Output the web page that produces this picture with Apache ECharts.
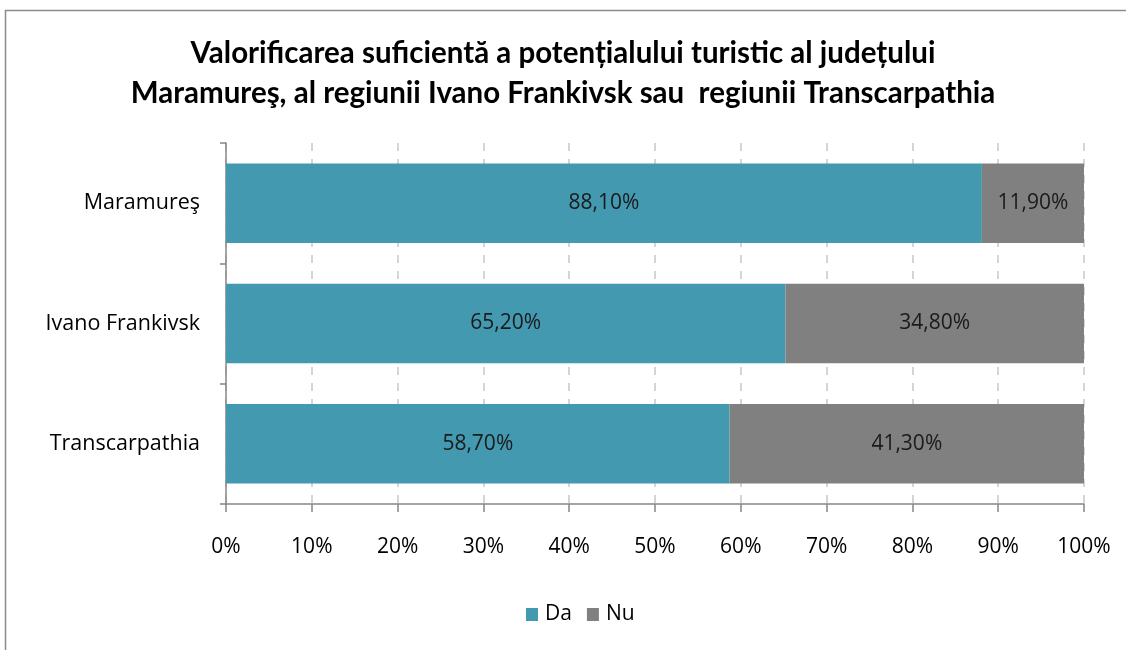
<!DOCTYPE html>
<html><head><meta charset="utf-8">
<script src="https://cdn.jsdelivr.net/npm/echarts@6/dist/echarts.min.js"></script>
<style>html,body{margin:0;padding:0;background:#fff}#c{width:1126px;height:650px}</style>
</head><body><div id="c"></div>
<script>
const categories = ['Maramureş', 'Ivano Frankivsk', 'Transcarpathia'];
const seriesNames = ['Da', 'Nu'];
const daValues = [88.1, 65.2, 58.7];
const nuValues = [11.9, 34.8, 41.3];
const xTicks = [0, 10, 20, 30, 40, 50, 60, 70, 80, 90, 100];
const titleLines = ['Valorificarea suficientă a potențialului turistic al județului', 'Maramureş, al regiunii Ivano Frankivsk sau  regiunii Transcarpathia'];

const font = "'Open Sans', 'Noto Sans', sans-serif";
const chart = echarts.init(document.getElementById('c'));
const fmt = p => p.value.toFixed(2).replace('.', ',') + '%';
chart.setOption({
  animation: false,
  graphic: [{type: 'rect', shape: {x: 5.5, y: 10.5, width: 1300, height: 800}, style: {fill: 'none', stroke: '#8c8c8c', lineWidth: 1.5}, silent: true}],
  title: {
    text: titleLines.join('\n'), left: 'center', top: 28, padding: [5, 5, 5, 21],
    textStyle: {fontFamily: "Lato, 'Open Sans', sans-serif", fontWeight: 'bold', fontSize: 29.5, color: '#000', lineHeight: 40}
  },
  legend: {
    data: seriesNames, bottom: 20, left: 521, itemWidth: 12, itemHeight: 13, itemGap: 15,
    icon: 'rect', textStyle: {fontFamily: font, fontSize: 21, color: '#000', padding: [0, 0, 0, 2]}
  },
  grid: {left: 226, right: 42, top: 143, bottom: 146},
  xAxis: {
    type: 'value', min: 0, max: 100, interval: 10,
    axisLabel: {formatter: v => v + '%', fontFamily: font, fontSize: 21, color: '#000', margin: 33},
    axisLine: {show: true, lineStyle: {color: '#868686', width: 1.5}},
    axisTick: {show: true, length: 8, lineStyle: {color: '#868686', width: 1.5}},
    splitLine: {show: true, lineStyle: {color: '#c8c8c8', type: [8, 8], width: 1.5}}
  },
  yAxis: {
    type: 'category', data: categories, inverse: true,
    axisLabel: {fontFamily: font, fontSize: 21.5, color: '#000', margin: 26},
    axisLine: {show: true, lineStyle: {color: '#868686', width: 1.5}},
    axisTick: {show: true, length: 6, lineStyle: {color: '#868686', width: 1.5}}
  },
  series: [
    {name: 'Da', type: 'bar', stack: 'a', data: daValues, barCategoryGap: '34%',
     itemStyle: {color: '#4399B0'},
     label: {show: true, position: 'inside', formatter: fmt, fontFamily: font, fontSize: 21, color: '#1a1a1a'}},
    {name: 'Nu', type: 'bar', stack: 'a', data: nuValues,
     itemStyle: {color: '#808080'},
     label: {show: true, position: 'inside', formatter: fmt, fontFamily: font, fontSize: 21, color: '#1a1a1a'}}
  ]
});
</script></body></html>
